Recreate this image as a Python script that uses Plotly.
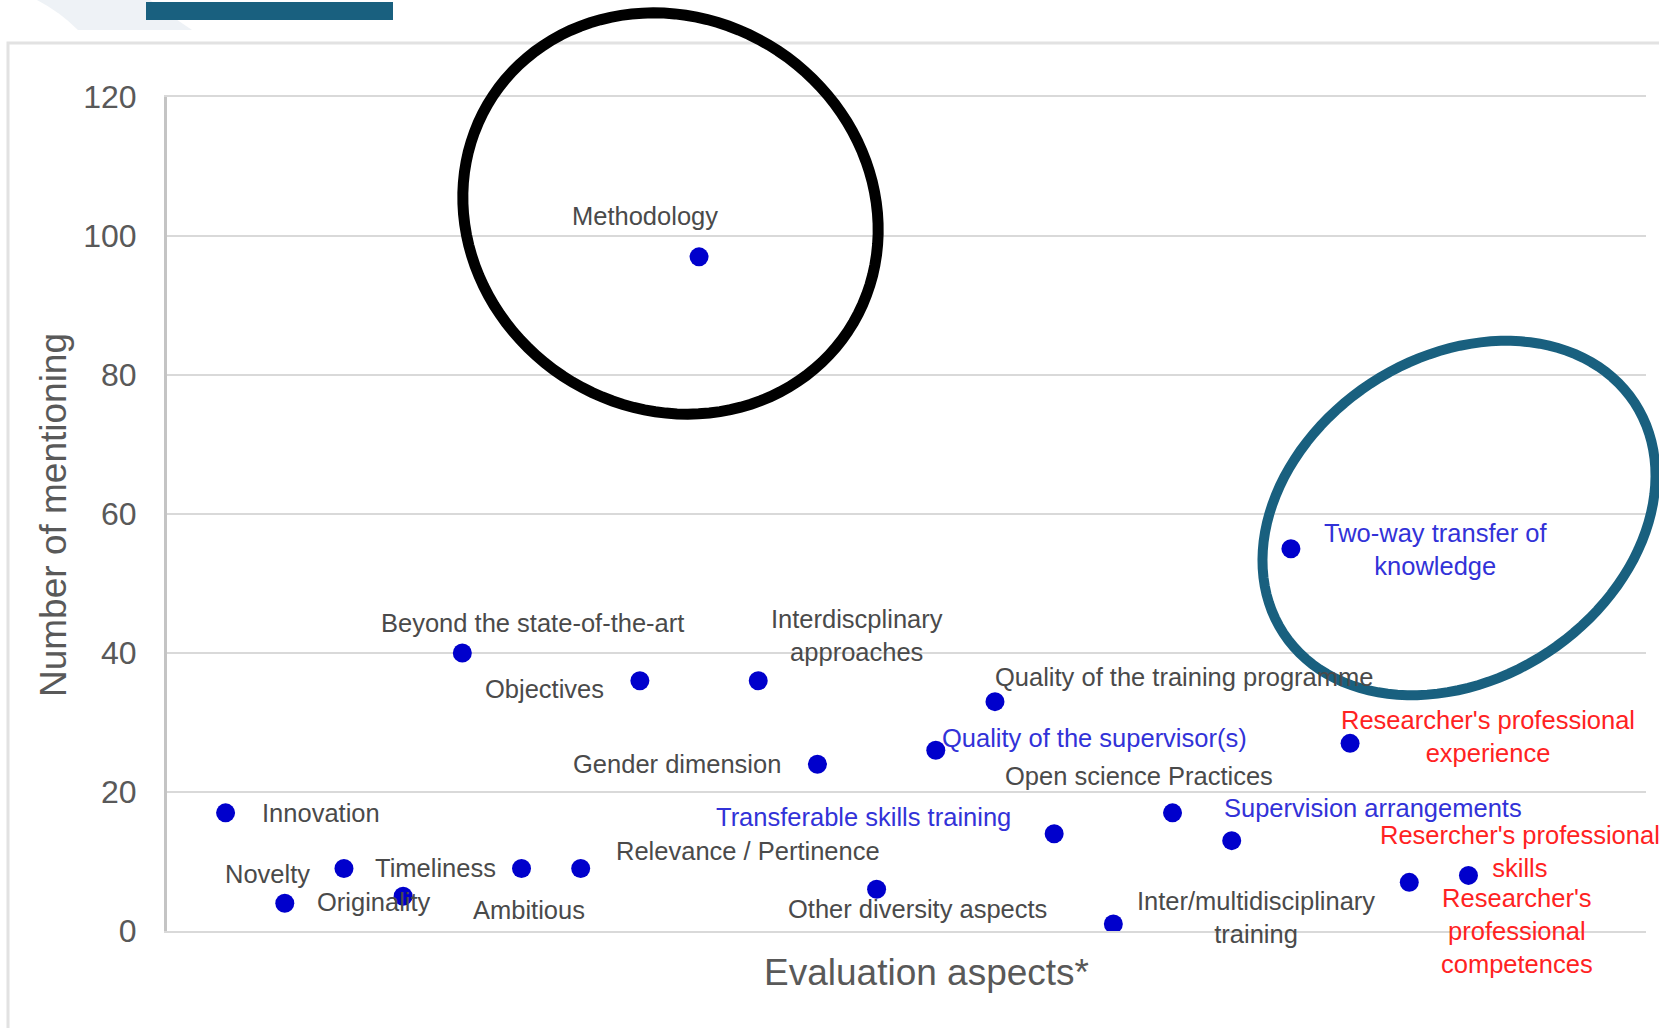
import numpy as np
import plotly.graph_objects as go

# ---------------- data ----------------
categories = [
    "Innovation", "Novelty", "Timeliness", "Originality",
    "Beyond the state-of-the-art", "Ambitious", "Relevance / Pertinence",
    "Objectives", "Methodology", "Interdiscplinary approaches",
    "Gender dimension", "Other diversity aspects",
    "Quality of the supervisor(s)", "Quality of the training programme",
    "Transferable skills training", "Inter/multidisciplinary training",
    "Open science Practices", "Supervision arrangements",
    "Two-way transfer of knowledge", "Researcher's professional experience",
    "Resercher's professional skills", "Researcher's professional competences",
]
mentions = [17, 4, 9, 5, 40, 9, 9, 36, 97, 36, 24, 6, 26, 33, 14, 1, 17, 13, 55, 27, 7, 8]
label_text = [
    "Innovation", "Novelty", "Timeliness", "Originality",
    "Beyond the state-of-the-art", "Ambitious", "Relevance / Pertinence",
    "Objectives", "Methodology", "Interdiscplinary<br>approaches",
    "Gender dimension", "Other diversity aspects",
    "Quality of the supervisor(s)", "Quality of the training programme",
    "Transferable skills training", "Inter/multidisciplinary<br>training",
    "Open science Practices", "Supervision arrangements",
    "Two-way transfer of<br>knowledge", "Researcher's professional<br>experience",
    "Resercher's professional<br>skills", "Researcher's<br>professional<br>competences",
]
label_group = [
    "g", "g", "g", "g", "g", "g", "g", "g", "g", "g", "g", "g",
    "b", "g", "b", "g", "g", "b", "b", "r", "r", "r",
]
y_ticks = [0, 20, 40, 60, 80, 100, 120]

# ---------------- layout / style ----------------
W, H = 1659, 1028
PL, PR, PT, PB = 167, 1646, 97, 931   # plot area in pixels
FONT = "Liberation Sans, Arial, sans-serif"
group_color = {"g": "#4a4a4a", "b": "#3232d8", "r": "#ff2222"}

# label placement: (xanchor, dx px, dy px screen-down)
label_pos = [
    ("left", 34, 0), ("center", -17, -29), ("left", 29, 0), ("center", -29, 6),
    ("center", 70, -30), ("center", 7, 42), ("left", 33, -17), ("right", -34, 8),
    ("center", -54, -41), ("center", 99, -45), ("right", -34, 0), ("center", 41, 20),
    ("left", 4, -12), ("left", -2, -25), ("right", -41, -17), ("center", 143, -7),
    ("center", -34, -37), ("left", -10, -33), ("center", 145, 1), ("center", 138, -7),
    ("center", 111, -31), ("center", 49, 56),
]


def px2paper(px, py):
    return (px - PL) / (PR - PL), (PB - py) / (PB - PT)


def ellipse_path(cx, cy, a, b, theta_deg, n=120):
    th = np.radians(theta_deg)
    t = np.linspace(0, 2 * np.pi, n, endpoint=False)
    xs = cx + a * np.cos(t) * np.cos(th) - b * np.sin(t) * np.sin(th)
    ys = cy + a * np.cos(t) * np.sin(th) + b * np.sin(t) * np.cos(th)
    pts = [px2paper(x, y) for x, y in zip(xs, ys)]
    return "M " + " L ".join(f"{x:.5f},{y:.5f}" for x, y in pts) + " Z"


fig = go.Figure()
fig.add_trace(go.Scatter(
    x=categories, y=mentions, mode="markers",
    marker=dict(color="#0000cc", size=19, line=dict(width=0)),
    showlegend=False, hoverinfo="x+y",
))

annotations = []
for cat, val, txt, grp, (anc, dx, dy) in zip(categories, mentions, label_text, label_group, label_pos):
    annotations.append(dict(
        x=cat, y=val, xref="x", yref="y", text=txt, showarrow=False,
        xanchor=anc, yanchor="middle", xshift=dx, yshift=-dy, align="center",
        font=dict(family=FONT, size=25.5, color=group_color[grp]),
    ))

# axis titles
tx, ty = px2paper(926, 973)
annotations.append(dict(x=tx, y=ty, xref="paper", yref="paper", text="Evaluation aspects*",
                        showarrow=False, xanchor="center", yanchor="middle",
                        font=dict(family=FONT, size=37, color="#595959")))
tx, ty = px2paper(53, 515)
annotations.append(dict(x=tx, y=ty, xref="paper", yref="paper", text="Number of mentioning",
                        showarrow=False, xanchor="center", yanchor="middle", textangle=-90,
                        font=dict(family=FONT, size=37, color="#595959")))

shapes = []
# outer light frame
fx0, fy0 = px2paper(8, 43)
fx1, fy1 = px2paper(1720, 1100)
shapes.append(dict(type="rect", xref="paper", yref="paper", x0=fx0, y0=fy1, x1=fx1, y1=fy0,
                   line=dict(color="#e2e2e2", width=3), fillcolor="rgba(0,0,0,0)", layer="below"))
# faint swoosh top-left
sw = [(37, 0), (60, 12), (78, 30), (192, 30), (165, 12), (150, 0)]
swp = [px2paper(x, y) for x, y in sw]
shapes.append(dict(type="path", xref="paper", yref="paper",
                   path=f"M {swp[0][0]},{swp[0][1]} Q {swp[1][0]},{swp[1][1]} {swp[2][0]},{swp[2][1]} "
                        f"L {swp[3][0]},{swp[3][1]} Q {swp[4][0]},{swp[4][1]} {swp[5][0]},{swp[5][1]} Z",
                   fillcolor="#eef2f6", line=dict(width=0), layer="below"))
# top blue bar
bx0, by0 = px2paper(146, 2)
bx1, by1 = px2paper(393, 20)
shapes.append(dict(type="rect", xref="paper", yref="paper", x0=bx0, y0=by1, x1=bx1, y1=by0,
                   fillcolor="#19607f", line=dict(width=0), layer="above"))
# black ellipse around Methodology
shapes.append(dict(type="path", xref="paper", yref="paper",
                   path=ellipse_path(670.5, 213.5, 213, 195, 33.5),
                   line=dict(color="#000000", width=11), layer="above"))
# teal ellipse around Two-way transfer
shapes.append(dict(type="path", xref="paper", yref="paper",
                   path=ellipse_path(1459, 518, 210, 161, -33.3),
                   line=dict(color="#19607f", width=10), layer="above"))

fig.update_layout(
    width=W, height=H,
    margin=dict(l=PL, r=W - PR, t=PT, b=H - PB, pad=0),
    paper_bgcolor="white", plot_bgcolor="white",
    font=dict(family=FONT, color="#595959"),
    showlegend=False,
    annotations=annotations, shapes=shapes,
    xaxis=dict(type="category", categoryorder="array", categoryarray=categories,
               range=[-0.99, 24.0], showticklabels=False, showgrid=False, zeroline=False,
               showline=True, mirror=True, linecolor="#d9d9d9", linewidth=2, ticks=""),
    yaxis=dict(range=[0, 120], tickvals=y_ticks, ticktext=[str(v) for v in y_ticks],
               showgrid=True, gridcolor="#d9d9d9", gridwidth=2, zeroline=False,
               showline=True, linecolor="#c4c4c4", linewidth=3, ticks="",
               ticklabelstandoff=21,
               tickfont=dict(family=FONT, size=32, color="#595959")),
)

fig.write_html("out.html", config={"displayModeBar": False},
               post_script="document.body.style.margin='0';document.body.style.overflow='hidden';")
